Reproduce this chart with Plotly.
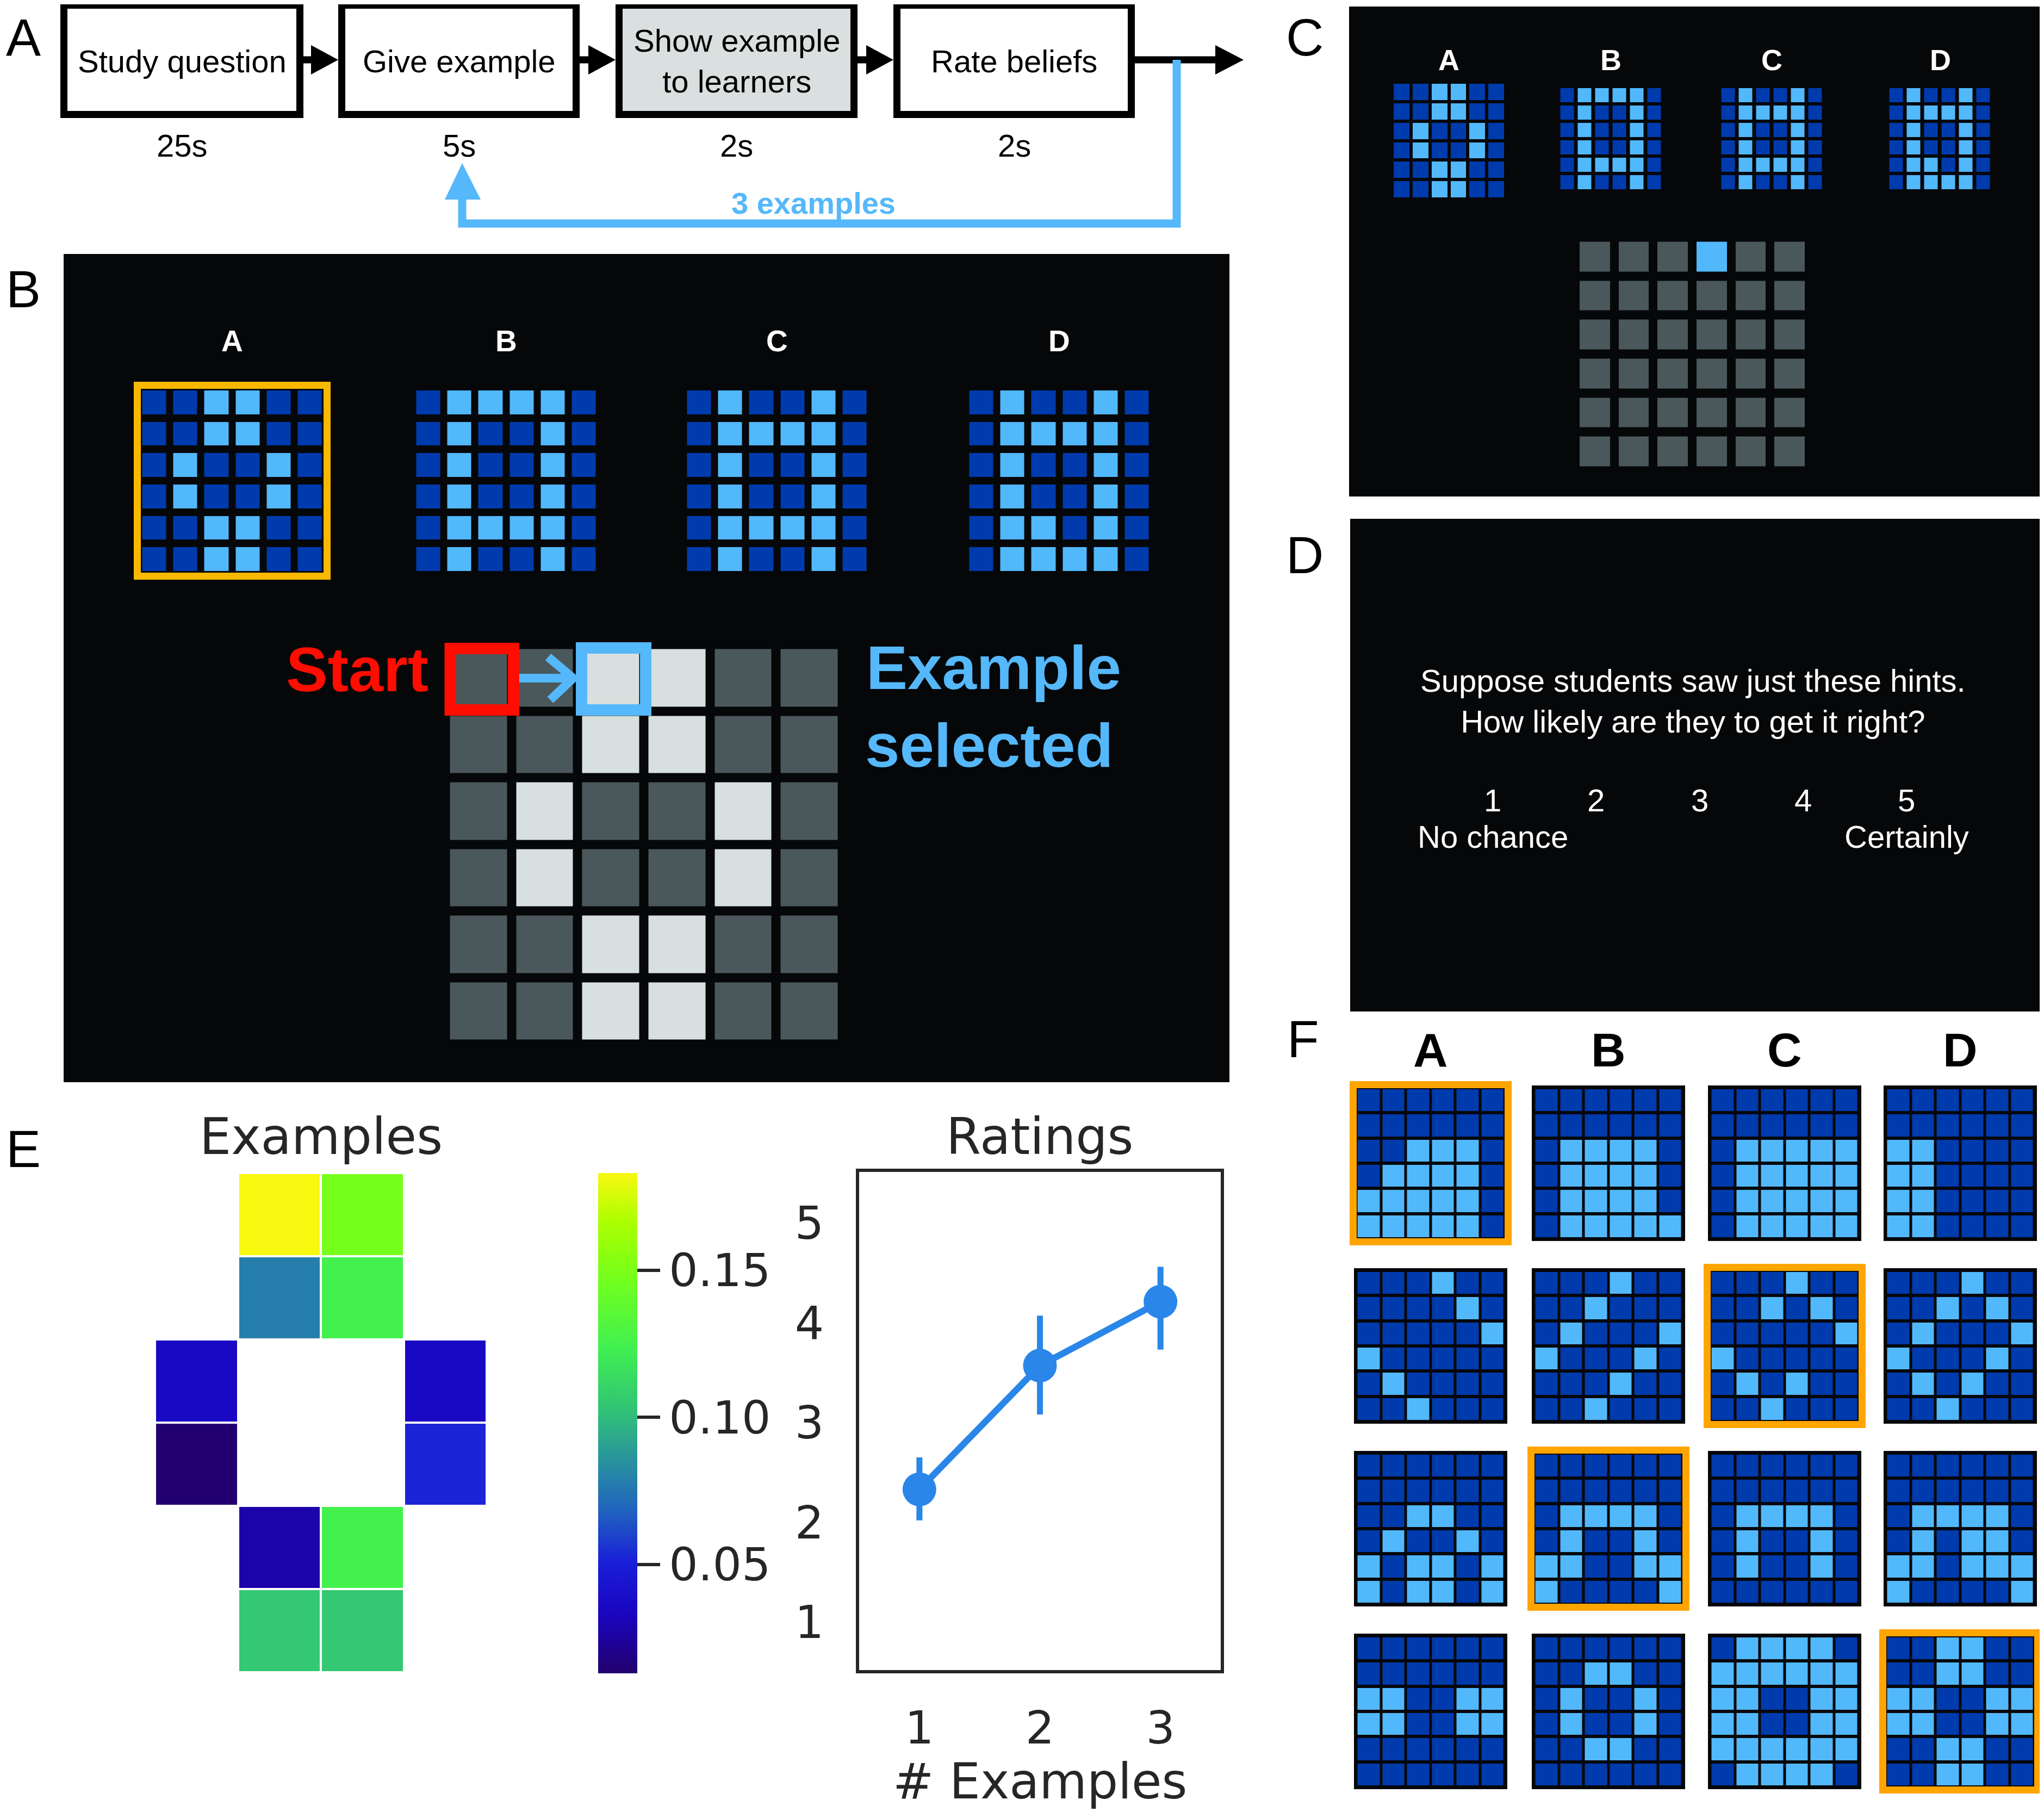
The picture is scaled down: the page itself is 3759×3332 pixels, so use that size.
import plotly.graph_objects as go

W, H = 3759, 3332
OFF = 8  # page body margin of the html file

# ---------------- data ----------------
STEP_LABELS = ["Study question", "Give example", "Show example<br>to learners", "Rate beliefs"]
STEP_TIMES = ["25s", "5s", "2s", "2s"]
LOOP_LABEL = "3 examples"
OPTION_LABELS = ["A", "B", "C", "D"]
PANEL_LABELS = ["A", "B", "C", "D", "E", "F"]

HYP_A = [[0, 0, 1, 1, 0, 0], [0, 0, 1, 1, 0, 0], [0, 1, 0, 0, 1, 0],
         [0, 1, 0, 0, 1, 0], [0, 0, 1, 1, 0, 0], [0, 0, 1, 1, 0, 0]]
HYP_B = [[0, 1, 1, 1, 1, 0], [0, 1, 0, 0, 1, 0], [0, 1, 0, 0, 1, 0],
         [0, 1, 0, 0, 1, 0], [0, 1, 1, 1, 1, 0], [0, 1, 0, 0, 1, 0]]
HYP_C = [[0, 1, 0, 0, 1, 0], [0, 1, 1, 1, 1, 0], [0, 1, 0, 0, 1, 0],
         [0, 1, 0, 0, 1, 0], [0, 1, 1, 1, 1, 0], [0, 1, 0, 0, 1, 0]]
HYP_D = [[0, 1, 0, 0, 1, 0], [0, 1, 1, 1, 1, 0], [0, 1, 0, 0, 1, 0],
         [0, 1, 0, 0, 1, 0], [0, 1, 1, 0, 1, 0], [0, 1, 1, 1, 1, 0]]
HYPOTHESES = [HYP_A, HYP_B, HYP_C, HYP_D]

# teacher board: 0 = other cell, 1 = cell of true hypothesis
TEACHER_BOARD = [[0, 0, 1, 1, 0, 0], [0, 0, 1, 1, 0, 0], [0, 1, 0, 0, 1, 0],
                 [0, 1, 0, 0, 1, 0], [0, 0, 1, 1, 0, 0], [0, 0, 1, 1, 0, 0]]
# learner board: 0 = hidden, 2 = revealed example
LEARNER_BOARD = [[0, 0, 0, 2, 0, 0], [0, 0, 0, 0, 0, 0], [0, 0, 0, 0, 0, 0],
                 [0, 0, 0, 0, 0, 0], [0, 0, 0, 0, 0, 0], [0, 0, 0, 0, 0, 0]]

PROMPT_LINES = ["Suppose students saw just these hints.", "How likely are they to get it right?"]
SCALE_POINTS = ["1", "2", "3", "4", "5"]
SCALE_ANCHORS = ["No chance", "Certainly"]

EXAMPLE_FREQ = [
    [None, 0.183, 0.148, None],
    [None, 0.078, 0.125, None],
    [0.036, None, None, 0.036],
    [0.014, None, None, 0.052],
    [None, 0.028, 0.125, None],
    [None, 0.105, 0.105, None],
]
FREQ_TICKS = [0.05, 0.10, 0.15]
N_EXAMPLES = [1, 2, 3]
RATING_MEAN = [2.33, 3.57, 4.21]
RATING_CI_LOW = [2.02, 3.08, 3.73]
RATING_CI_HIGH = [2.65, 4.07, 4.56]
RATING_TICKS = [1, 2, 3, 4, 5]

F_R1 = [
    [[0, 0, 0, 0, 0, 0], [0, 0, 0, 0, 0, 0], [0, 0, 1, 1, 1, 0], [0, 1, 1, 1, 1, 0], [1, 1, 1, 1, 1, 0], [1, 1, 1, 1, 1, 0]],
    [[0, 0, 0, 0, 0, 0], [0, 0, 0, 0, 0, 0], [0, 1, 1, 1, 1, 0], [0, 1, 1, 1, 1, 0], [0, 1, 1, 1, 1, 0], [0, 1, 1, 1, 1, 1]],
    [[0, 0, 0, 0, 0, 0], [0, 0, 0, 0, 0, 0], [0, 1, 1, 1, 1, 1], [0, 1, 1, 1, 1, 1], [0, 1, 1, 1, 1, 1], [0, 1, 1, 1, 1, 1]],
    [[0, 0, 0, 0, 0, 0], [0, 0, 0, 0, 0, 0], [1, 1, 0, 0, 0, 0], [1, 1, 0, 0, 0, 0], [1, 1, 0, 0, 0, 0], [1, 1, 0, 0, 0, 0]],
]
F_R2 = [
    [[0, 0, 0, 1, 0, 0], [0, 0, 0, 0, 1, 0], [0, 0, 0, 0, 0, 1], [1, 0, 0, 0, 0, 0], [0, 1, 0, 0, 0, 0], [0, 0, 1, 0, 0, 0]],
    [[0, 0, 0, 1, 0, 0], [0, 0, 1, 0, 0, 0], [0, 1, 0, 0, 0, 1], [1, 0, 0, 0, 1, 0], [0, 0, 0, 1, 0, 0], [0, 0, 1, 0, 0, 0]],
    [[0, 0, 0, 1, 0, 0], [0, 0, 1, 0, 1, 0], [0, 0, 0, 0, 0, 1], [1, 0, 0, 0, 0, 0], [0, 1, 0, 1, 0, 0], [0, 0, 1, 0, 0, 0]],
    [[0, 0, 0, 1, 0, 0], [0, 0, 1, 0, 1, 0], [0, 1, 0, 0, 0, 1], [1, 0, 0, 0, 1, 0], [0, 1, 0, 1, 0, 0], [0, 0, 1, 0, 0, 0]],
]
F_R3 = [
    [[0, 0, 0, 0, 0, 0], [0, 0, 0, 0, 0, 0], [0, 0, 1, 1, 0, 0], [0, 1, 0, 0, 1, 0], [1, 0, 1, 1, 0, 1], [1, 0, 1, 1, 0, 1]],
    [[0, 0, 0, 0, 0, 0], [0, 0, 0, 0, 0, 0], [0, 1, 1, 1, 1, 0], [0, 1, 0, 0, 1, 0], [1, 1, 0, 0, 1, 1], [1, 0, 0, 0, 0, 1]],
    [[0, 0, 0, 0, 0, 0], [0, 0, 0, 0, 0, 0], [0, 1, 1, 1, 1, 0], [0, 1, 0, 0, 1, 0], [0, 1, 0, 0, 1, 0], [0, 0, 0, 0, 0, 0]],
    [[0, 0, 0, 0, 0, 0], [0, 0, 0, 0, 0, 0], [0, 1, 1, 1, 1, 0], [0, 1, 0, 1, 1, 0], [1, 1, 0, 1, 1, 1], [1, 0, 0, 0, 0, 1]],
]
F_R4 = [
    [[0, 0, 0, 0, 0, 0], [0, 0, 0, 0, 0, 0], [1, 1, 0, 0, 1, 1], [1, 1, 0, 0, 1, 1], [0, 0, 0, 0, 0, 0], [0, 0, 0, 0, 0, 0]],
    [[0, 0, 0, 0, 0, 0], [0, 0, 1, 1, 0, 0], [0, 1, 0, 0, 1, 0], [0, 1, 0, 0, 1, 0], [0, 0, 1, 1, 0, 0], [0, 0, 0, 0, 0, 0]],
    [[0, 1, 1, 1, 1, 0], [1, 1, 1, 1, 1, 1], [1, 1, 0, 0, 1, 1], [1, 1, 0, 0, 1, 1], [1, 1, 1, 1, 1, 1], [0, 1, 1, 1, 1, 0]],
    [[0, 0, 1, 1, 0, 0], [0, 0, 1, 1, 0, 0], [1, 1, 0, 0, 1, 1], [1, 1, 0, 0, 1, 1], [0, 0, 1, 1, 0, 0], [0, 0, 1, 1, 0, 0]],
]
F_ROWS = [F_R1, F_R2, F_R3, F_R4]
F_SELECTED = [0, 2, 1, 3]

# ---------------- style ----------------
HELV = "Liberation Sans, Arial, Helvetica, sans-serif"
DEJAVU = "DejaVu Sans, sans-serif"
BLACK = "#060709"
DARKBLUE = "#003bad"
LIGHTBLUE = "#52b8fc"
GRAY = "#4a585b"
LIGHTGRAY = "#d8e0df"
SKY = "#55b8fa"
ORANGE_B = "#f8b800"
ORANGE_F = "#ffa500"
PLOTBLUE = "#2a86e8"
TXT = "#262626"

BLUE_CS = [[0, DARKBLUE], [1, LIGHTBLUE]]
BOARD_CS = [[0, GRAY], [0.5, LIGHTGRAY], [1, LIGHTBLUE]]
FREQ_CS = [[0.0, "#22006e"], [0.12, "#1a05c0"], [0.22, "#1a1ed8"], [0.32, "#2060c0"],
           [0.42, "#2890a0"], [0.52, "#30c078"], [0.65, "#40f050"], [0.78, "#70ff20"],
           [0.9, "#aaff00"], [1.0, "#f8f810"]]


def px(c):
    return (c - OFF) / W


def py(c):
    return 1 - (c - OFF) / H


fig = go.Figure()
shapes = []
annos = []


def rect(x0, y0, x1, y1, fill=None, line=None, lw=0, layer="below"):
    shapes.append(dict(type="rect", xref="x", yref="y", x0=x0, y0=y0, x1=x1, y1=y1,
                       fillcolor=fill if fill else "rgba(0,0,0,0)",
                       line=dict(color=line if line else "rgba(0,0,0,0)", width=lw),
                       layer=layer))


def path(d, fill=None, line=None, lw=0, layer="below"):
    shapes.append(dict(type="path", xref="x", yref="y", path=d,
                       fillcolor=fill if fill else "rgba(0,0,0,0)",
                       line=dict(color=line if line else "rgba(0,0,0,0)", width=lw),
                       layer=layer))


def text(x, y, s, size, color="#000000", family=HELV, bold=False, xanchor="center"):
    annos.append(dict(x=x, y=y, xref="x", yref="y", text=("<b>%s</b>" % s) if bold else s,
                      showarrow=False, xanchor=xanchor, yanchor="middle", borderpad=0,
                      font=dict(size=size, color=color, family=family)))


def grid(z, left, top, width, height, gx, gy, cs, zmax=1):
    nr, nc = len(z), len(z[0])
    dx = (width + gx) / nc
    dy = (height + gy) / nr
    fig.add_trace(go.Heatmap(z=z, x0=left - gx / 2 + dx / 2, dx=dx,
                             y0=top - gy / 2 + dy / 2, dy=dy, xgap=gx, ygap=gy,
                             colorscale=cs, zmin=0, zmax=zmax, showscale=False,
                             hoverinfo="skip", xaxis="x", yaxis="y"))


# ---------------- panel labels ----------------
for lab, (lx, ly) in zip(PANEL_LABELS,
                         [(10, 68), (10, 531), (2364, 68), (2364, 1020), (10, 2112), (2366, 1910)]):
    text(lx, ly, lab, 96, xanchor="left")

# ---------------- panel A: flow ----------------
box_x = [(111, 558), (622, 1066), (1132, 1577), (1643, 2087)]
by0, by1, blw = 3, 217, 13
for i, (x0, x1) in enumerate(box_x):
    rect(x0 + blw / 2, by0 + blw / 2, x1 - blw / 2, by1 - blw / 2,
         fill="#d9e0df" if i == 2 else "#ffffff", line="#000000", lw=blw)
    text((x0 + x1) / 2, 112, STEP_LABELS[i], 58)
    text((x0 + x1) / 2, 267, STEP_TIMES[i], 58)
ay = 110
for i in range(3):
    r, l = box_x[i][1], box_x[i + 1][0]
    shapes.append(dict(type="line", xref="x", yref="y", x0=r, x1=l - 45, y0=ay, y1=ay,
                       line=dict(color="#000000", width=13), layer="below"))
    path("M %f,%f L %f,%f L %f,%f Z" % (l - 50, ay - 27, l, ay, l - 50, ay + 27), fill="#000000")
shapes.append(dict(type="line", xref="x", yref="y", x0=2087, x1=2240, y0=ay, y1=ay,
                   line=dict(color="#000000", width=13), layer="below"))
path("M 2235,%f L 2287,%f L 2235,%f Z" % (ay - 27, ay, ay + 27), fill="#000000")
path("M 2164,%f L 2164,411 L 850,411 L 850,362" % ay, line=SKY, lw=15)
path("M 818,367 L 850,300 L 884,367 Z", fill=SKY)
text(1496, 373, LOOP_LABEL, 56, color=SKY, bold=True)

# ---------------- panel B ----------------
rect(117, 467, 2261, 1990, fill=BLACK)
b_lefts = [262, 766, 1264, 1783]
for i, hyp in enumerate(HYPOTHESES):
    if i == 0:
        rect(b_lefts[i] - 16, 702, b_lefts[i] + 330 + 16, 1066, fill=ORANGE_B)
        rect(b_lefts[i] - 3, 715, b_lefts[i] + 333, 1053, fill=BLACK)
    grid(hyp, b_lefts[i], 718, 330, 332, 13, 14, BLUE_CS)
    text(b_lefts[i] + 165, 627, OPTION_LABELS[i], 55, color="#ffffff", bold=True)
grid(TEACHER_BOARD, 828, 1194, 713, 718, 17, 17, BOARD_CS, zmax=2)
rect(828, 1192.5, 944.5, 1305.5, line="#ff0d00", lw=21, layer="above")
rect(1069.5, 1191.5, 1187.5, 1305.5, line=SKY, lw=21, layer="above")
shapes.append(dict(type="line", xref="x", yref="y", x0=955, x1=1048, y0=1247, y1=1247,
                   line=dict(color=SKY, width=16), layer="above"))
path("M 1008,1208 L 1054,1247 L 1012,1287", line=SKY, lw=16, layer="above")
text(789, 1231, "Start", 115, color="#ff0d00", bold=True, xanchor="right")
text(1592, 1227, "Example", 114, color=SKY, bold=True, xanchor="left")
text(1590, 1370, "selected", 114, color=SKY, bold=True, xanchor="left")

# ---------------- panel C ----------------
rect(2481, 12, 3770, 913, fill=BLACK)
grid(HYPOTHESES[0], 2563, 154, 203, 209, 6, 6, BLUE_CS)
c_lefts = [2870, 3166, 3475]
for i, hyp in enumerate(HYPOTHESES[1:]):
    grid(hyp, c_lefts[i], 162, 185, 186, 7, 6, BLUE_CS)
for i, cx in enumerate([2664, 2962, 3258, 3568]):
    text(cx, 110, OPTION_LABELS[i], 54, color="#ffffff", bold=True)
grid(LEARNER_BOARD, 2905, 445, 414, 413, 16, 17, BOARD_CS, zmax=2)

# ---------------- panel D ----------------
rect(2483, 954, 3770, 1860, fill=BLACK)
text(3113, 1289, "<br>".join(PROMPT_LINES), 58, color="#ffffff")
for i, s in enumerate(SCALE_POINTS):
    text(2745 + i * 190.3, 1471, s, 58, color="#ffffff")
text(2745, 1538, SCALE_ANCHORS[0], 58, color="#ffffff")
text(3506, 1538, SCALE_ANCHORS[1], 58, color="#ffffff")

# ---------------- panel F ----------------
f_lefts = [2497, 2824, 3148, 3471]
f_tops = [2003, 2339, 2675, 3011]
fw, fh = 268, 272
for i, cx in enumerate(f_lefts):
    text(cx + fw / 2, 1930, OPTION_LABELS[i], 88, bold=True)
for r, row in enumerate(F_ROWS):
    for c, g in enumerate(row):
        L, T = f_lefts[c], f_tops[r]
        if F_SELECTED[r] == c:
            rect(L - 15, T - 15, L + fw + 15, T + fh + 15, fill=ORANGE_F)
            rect(L - 2, T - 2, L + fw + 2, T + fh + 2, fill=BLACK)
        else:
            rect(L - 7, T - 7, L + fw + 7, T + fh + 7, fill=BLACK)
        grid(g, L, T, fw, fh, 5, 6, BLUE_CS)

# ---------------- panel E ----------------
fig.add_trace(go.Heatmap(
    z=EXAMPLE_FREQ, xaxis="x2", yaxis="y2", xgap=4, ygap=4,
    colorscale=FREQ_CS, zmin=0.013, zmax=0.183, hoverinfo="skip",
    colorbar=dict(x=px(1100), xanchor="left", y=py(2157), yanchor="top",
                  len=920 / H, lenmode="fraction", thickness=72, thicknessmode="pixels",
                  outlinewidth=0, ticks="outside", ticklen=42, tickwidth=6, tickcolor=TXT,
                  tickvals=FREQ_TICKS, ticktext=["%.2f" % v for v in FREQ_TICKS],
                  tickfont=dict(size=84, family=DEJAVU, color=TXT), xpad=0, ypad=0)))

err_plus = [h - m for h, m in zip(RATING_CI_HIGH, RATING_MEAN)]
err_minus = [m - l for m, l in zip(RATING_MEAN, RATING_CI_LOW)]
fig.add_trace(go.Scatter(
    x=N_EXAMPLES, y=RATING_MEAN, xaxis="x3", yaxis="y3", mode="lines+markers",
    line=dict(color=PLOTBLUE, width=12), marker=dict(size=62, color=PLOTBLUE),
    error_y=dict(type="data", symmetric=False, array=err_plus, arrayminus=err_minus,
                 thickness=11, width=0, color=PLOTBLUE),
    cliponaxis=False, hoverinfo="skip", showlegend=False))

text(590, 2090, "Examples", 92, color=TXT, family=DEJAVU)
text(1912, 2090, "Ratings", 92, color=TXT, family=DEJAVU)
text(1912, 3275, "# Examples", 90, color=TXT, family=DEJAVU)

fig.update_layout(
    width=W, height=H, autosize=False,
    margin=dict(l=0, r=0, t=0, b=0, pad=0),
    paper_bgcolor="#ffffff", plot_bgcolor="rgba(0,0,0,0)",
    showlegend=False, font=dict(family=HELV),
    xaxis=dict(domain=[0, 1], range=[OFF, W + OFF], visible=False, fixedrange=True),
    yaxis=dict(domain=[0, 1], range=[H + OFF, OFF], visible=False, fixedrange=True),
    xaxis2=dict(domain=[px(285), px(895)], range=[-0.5, 3.5], visible=False, anchor="y2"),
    yaxis2=dict(domain=[py(3075), py(2157)], range=[5.5, -0.5], visible=False, anchor="x2"),
    xaxis3=dict(domain=[px(1580), px(2245)], range=[0.5, 3.5], anchor="y3",
                tickvals=N_EXAMPLES, ticks="", showgrid=False, zeroline=False,
                showline=True, mirror=True, linecolor=TXT, linewidth=6,
                ticklabelstandoff=28, tickfont=dict(size=84, family=DEJAVU, color=TXT)),
    yaxis3=dict(domain=[py(3071), py(2155)], range=[0.52, 5.51], anchor="x3",
                tickvals=RATING_TICKS, ticks="", showgrid=False, zeroline=False,
                showline=True, mirror=True, linecolor=TXT, linewidth=6,
                ticklabelstandoff=42, tickfont=dict(size=84, family=DEJAVU, color=TXT)),
    shapes=shapes, annotations=annos,
)

fig.write_html("out.html")
